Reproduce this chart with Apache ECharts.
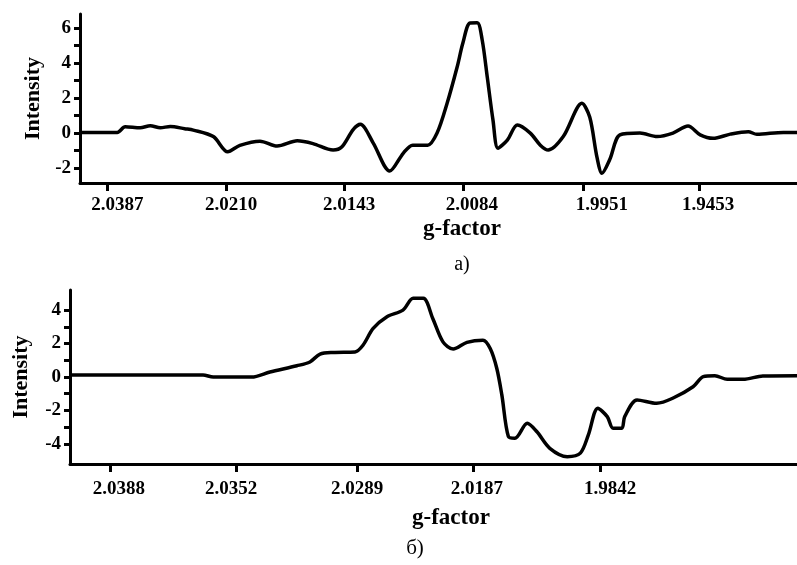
<!DOCTYPE html>
<html>
<head>
<meta charset="utf-8">
<script src="https://cdn.jsdelivr.net/npm/echarts@6/dist/echarts.min.js"></script>
<style>
  html, body { margin: 0; padding: 0; background: #fff; }
  #chart { width: 797px; height: 565px; }
</style>
</head>
<body>
<div id="chart"></div>
<script>
// scan position (0..100 across the field sweep) vs. intensity
// spectrum a)
const scanA = [0, 5.2, 6.3, 8.4, 9.8, 11.2, 12.6, 14.6, 15.8, 18.6, 20.6, 22.3, 25.1, 27.5, 30.3, 32.5,
	35.3, 36.5, 38.1, 39.1, 40.9, 43.2, 45.1, 46.4, 48.5, 49.8, 51.2, 52.6, 53.4, 54.4, 55.4, 56.1,
	56.8, 57.6, 58.3, 59.6, 61.0, 62.8, 64.2, 65.3, 67.4, 70.0, 71.1, 72.1, 72.8, 73.9, 75.3, 78.1,
	80.5, 82.7, 84.8, 86.5, 88.3, 90.7, 93.2, 94.4, 98.1, 100];
const intensityA = [0.04, 0.04, 0.36, 0.3, 0.42, 0.3, 0.38, 0.25, 0.17, -0.2, -1.07, -0.7, -0.46, -0.74, -0.44, -0.6,
	-0.97, -0.8, 0.2, 0.5, -0.57, -2.17, -1.14, -0.69, -0.69, 0, 1.7, 3.77, 5.14, 6.29, 6.3, 5.3,
	3.2, 0.74, -0.86, -0.4, 0.46, 0, -0.69, -0.97, -0.2, 1.7, 0.9, -1.37, -2.3, -1.5, -0.1, 0,
	-0.2, 0, 0.4, -0.1, -0.3, -0.06, 0.08, -0.07, 0.04, 0.04];
const tickPosA = [3.77, 20.4, 36.8, 53.4, 70.2, 86.4];
const labelPosA = [5.23, 21.06, 37.52, 54.67, 72.8, 87.59];
const tickLabelsA = ['2.0387', '2.0210', '2.0143', '2.0084', '1.9951', '1.9453'];

// spectrum б)
const scanB = [0, 18.3, 19.7, 25.0, 27.5, 31.2, 33.0, 34.4, 36.2, 39.2, 40.3, 41.7, 43.6, 45.8, 47.2, 48.6,
	49.9, 51.3, 52.7, 54.6, 56.8, 57.8, 58.7, 59.4, 60.3, 61.2, 62.9, 64.2, 66.0, 68.4, 70.2, 71.3,
	72.6, 73.9, 74.7, 75.9, 76.3, 78.0, 80.7, 82.9, 85.7, 87.1, 88.7, 90.4, 92.6, 95.3, 100];
const intensityB = [0.12, 0.12, 0, 0, 0.3, 0.67, 0.9, 1.37, 1.47, 1.5, 1.9, 2.9, 3.6, 4.0, 4.7, 4.7,
	3.5, 2.1, 1.67, 2.07, 2.2, 1.7, 0.52, -1.07, -3.56, -3.66, -2.76, -3.26, -4.26, -4.76, -4.55, -3.46,
	-1.87, -2.37, -3.06, -3.06, -2.37, -1.37, -1.57, -1.27, -0.58, 0.02, 0.08, -0.14, -0.14, 0.06, 0.08];
const tickPosB = [5.5, 22.8, 39.5, 55.4, 73.0];
const labelPosB = [6.74, 22.15, 39.48, 55.98, 74.28];
const tickLabelsB = ['2.0388', '2.0352', '2.0289', '2.0187', '1.9842'];

const yTicksA = [-2, -1, 0, 1, 2, 3, 4, 5, 6];
const yLabelsA = [-2, 0, 2, 4, 6];
const yTicksB = [-4, -3, -2, -1, 0, 1, 2, 3, 4];
const yLabelsB = [-4, -2, 0, 2, 4];

const FONT = '"Liberation Serif", "Times New Roman", serif';
const BLACK = '#000';

function zip(xs, ys) {
	return xs.map(function(x, i) { return [x, ys[i]]; });
}

// tick marks and their labels sit at slightly different spots in the original
function xAxisFor(gridIndex, ticks, labelPos, labels, margin) {
	return {
		type: 'value', gridIndex: gridIndex, min: 0, max: 100,
		axisLine: { onZero: false, lineStyle: { color: BLACK, width: 3 } },
		axisTick: { customValues: ticks, length: 8, lineStyle: { color: BLACK, width: 3 } },
		axisLabel: {
			customValues: labelPos, margin: margin,
			color: BLACK, fontFamily: FONT, fontWeight: 'bold', fontSize: 19,
			formatter: function(v) {
				var i = labelPos.indexOf(v);
				return i >= 0 ? labels[i] : '';
			}
		},
		splitLine: { show: false }
	};
}

function yAxisFor(gridIndex, min, max, ticks, labels, nameGap) {
	return {
		type: 'value', gridIndex: gridIndex, min: min, max: max,
		name: 'Intensity', nameLocation: 'middle', nameGap: nameGap,
		nameTextStyle: { color: BLACK, fontFamily: FONT, fontWeight: 'bold', fontSize: 22 },
		axisLine: { show: true, onZero: false, lineStyle: { color: BLACK, width: 3 } },
		axisTick: { customValues: ticks, length: 6, lineStyle: { color: BLACK, width: 3 } },
		axisLabel: {
			customValues: labels, margin: 9,
			color: BLACK, fontFamily: FONT, fontWeight: 'bold', fontSize: 19
		},
		splitLine: { show: false }
	};
}

function lineSeries(idx, xs, ys) {
	return {
		type: 'line', xAxisIndex: idx, yAxisIndex: idx,
		data: zip(xs, ys), showSymbol: false, smooth: 0.3,
		lineStyle: { color: BLACK, width: 3.5 }, silent: true
	};
}

const chart = echarts.init(document.getElementById('chart'), null, { renderer: 'canvas' });
chart.setOption({
	animation: false,
	backgroundColor: '#fff',
	grid: [
		{ left: 80, top: 14, right: 0, height: 169 },
		{ left: 70, top: 290, right: 0, height: 174 }
	],
	xAxis: [
		xAxisFor(0, tickPosA, labelPosA, tickLabelsA, 13),
		xAxisFor(1, tickPosB, labelPosB, tickLabelsB, 16)
	],
	yAxis: [
		yAxisFor(0, -2.85, 6.8, yTicksA, yLabelsA, 36),
		yAxisFor(1, -5.2, 5.2, yTicksB, yLabelsB, 38)
	],
	series: [
		lineSeries(0, scanA, intensityA),
		lineSeries(1, scanB, intensityB)
	],
	graphic: [
		{ type: 'text', x: 462, y: 229, style: { text: 'g-factor', fill: BLACK, font: 'bold 23px ' + FONT, align: 'center', verticalAlign: 'middle' } },
		{ type: 'text', x: 462, y: 265, style: { text: 'а)', fill: BLACK, font: '20px ' + FONT, align: 'center', verticalAlign: 'middle' } },
		{ type: 'text', x: 451, y: 518, style: { text: 'g-factor', fill: BLACK, font: 'bold 23px ' + FONT, align: 'center', verticalAlign: 'middle' } },
		{ type: 'text', x: 415, y: 548, style: { text: 'б)', fill: BLACK, font: '21px ' + FONT, align: 'center', verticalAlign: 'middle' } }
	]
});
</script>
</body>
</html>
